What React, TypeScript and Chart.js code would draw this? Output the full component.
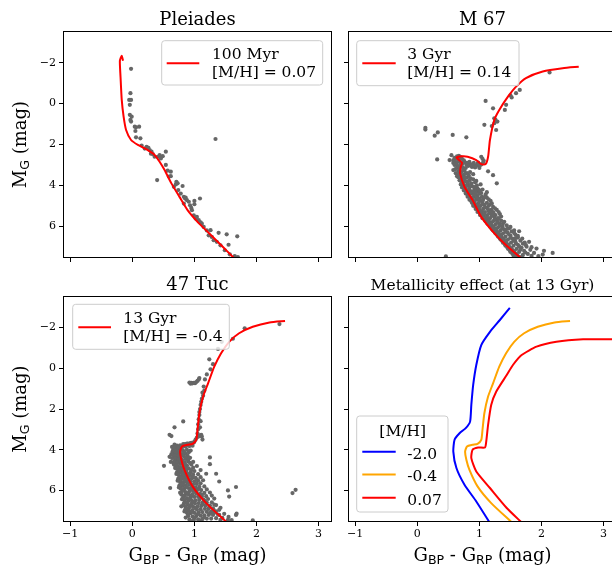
import { useEffect, useRef } from 'react';
import { Chart, registerables } from 'chart.js';

Chart.register(...registerables);

type Pt = [number, number];

// ---- axis ticks / ranges ----
const xTickValues = [-1, 0, 1, 2, 3];
const yTickValues = [-2, 0, 2, 4, 6];
const xRange: Pt = [-1.1, 3.2];
const yRange: Pt = [-3.5, 7.5];

// ---- Pleiades (100 Myr, [M/H]=0.07) ----
const pleiadesIsochrone: Pt[] = [
  [1.64, 7.56], [1.46, 7.01], [1.24, 6.35], [1.05, 5.78], [0.89, 5.21], [0.76, 4.56], [0.63, 3.9],
  [0.52, 3.25], [0.44, 2.84], [0.36, 2.51], [0.23, 2.24], [0.09, 2.02], [-0.02, 1.78], [-0.1, 1.29],
  [-0.14, 0.64], [-0.17, -0.18], [-0.19, -1.33], [-0.2, -2.1], [-0.17, -2.34], [-0.15, -2.1],
];
const pleiadesStars: Pt[] = [
  [-0.02, -1.7], [-0.03, -0.51], [-0.05, -0.18], [-0.02, -0.18], [-0.04, 0.06], [-0.04, 0.55], [-0.01, 0.64],
  [-0.03, 0.8], [-0.02, 0.88], [0.04, 1.13], [0.06, 1.16], [0.11, 1.13], [0.05, 1.34], [0.13, 1.7], [0.06, 1.65],
  [0.23, 2.11], [0.26, 2.16], [0.28, 2.27], [0.31, 2.35], [0.33, 2.47], [0.36, 2.6], [0.41, 2.6], [0.44, 2.52],
  [0.49, 2.57], [0.54, 2.35], [0.46, 2.68], [0.4, 3.74], [0.54, 3.0], [0.57, 3.28], [0.62, 3.33], [0.59, 3.57],
  [0.71, 3.82], [0.73, 3.9], [0.67, 4.07], [0.81, 4.03], [0.74, 4.23], [0.78, 4.4], [0.83, 4.56], [0.85, 4.64],
  [0.88, 4.72], [0.91, 4.8], [0.83, 4.89], [0.93, 4.97], [1.0, 4.76], [1.0, 4.92], [1.09, 4.64], [0.96, 5.21],
  [0.99, 5.46], [1.04, 5.54], [1.07, 5.7], [1.02, 5.62], [1.12, 5.87], [1.15, 6.03], [1.26, 6.19], [1.23, 6.44],
  [1.28, 6.52], [1.39, 6.32], [1.31, 6.68], [1.36, 6.76], [1.52, 6.39], [1.69, 6.49], [1.42, 6.93], [1.55, 6.9],
  [1.49, 7.17], [1.57, 7.37], [1.65, 7.45], [1.7, 7.5], [1.34, 1.73], [0.15, 2.05], [0.2, 2.2], [0.3, 2.45],
  [0.62, 3.55], [0.7, 3.95], [0.86, 4.6], [0.95, 5.1], [1.1, 5.8], [1.2, 6.2],
];

// ---- M 67 (3 Gyr, [M/H]=0.14) ----
const m67Isochrone: Pt[] = [
  [1.67, 7.56], [1.43, 6.93], [1.22, 6.27], [1.03, 5.54], [0.89, 4.72], [0.76, 4.07], [0.69, 3.41], [0.7, 3.09],
  [0.72, 2.89], [0.63, 2.64], [0.72, 2.58], [0.81, 2.6], [0.95, 2.76], [1.03, 2.96], [1.1, 2.96], [1.14, 2.6],
  [1.17, 1.78], [1.24, 0.8], [1.32, 0.31], [1.46, -0.34], [1.59, -0.83], [1.75, -1.25], [2.02, -1.57],
  [2.34, -1.73], [2.6, -1.8],
];
const m67Stars: Pt[] = [
  // blue stragglers & giants
  [0.13, 1.18], [0.13, 1.27], [0.28, 1.57], [0.33, 1.41], [0.57, 1.53], [0.79, 1.65], [0.32, 2.73], [0.52, 2.76],
  [1.1, -0.13], [1.22, 0.23], [1.41, 0.31], [1.43, 0.06], [1.24, 0.72], [1.29, 0.88], [1.26, 0.8], [1.24, 0.96],
  [1.08, 1.04], [1.2, 1.1], [1.27, 1.29], [1.59, -0.51], [1.65, -0.67], [1.5, -0.4], [1.52, -0.3], [2.13, -1.52],
  [1.22, 3.5], [1.28, 3.9], [1.14, 3.31], [0.97, 4.15], [1.1, 4.56],
  // turn-off & subgiants
  [0.6, 2.65], [0.64, 2.58], [0.66, 2.72], [0.58, 2.78], [0.7, 2.62], [0.68, 2.8], [0.62, 2.88], [0.72, 2.7],
  [0.55, 2.52], [0.76, 2.85], [0.8, 2.9], [0.85, 2.95], [0.9, 3.0], [0.95, 3.02], [1.0, 3.05], [1.03, 2.98],
  [0.88, 3.1], [0.93, 3.12], [0.98, 2.88], [1.05, 2.7], [1.03, 2.6], [1.07, 2.8], [0.82, 3.05], [0.78, 3.15],
  [1.0, 3.15], [0.67, 2.55], [0.6, 2.72], [0.75, 2.78], [0.84, 2.85], [0.91, 2.9], [0.97, 2.95], [1.06, 2.88],
  [0.87, 3.02], [0.94, 3.08], [1.0, 2.98], [0.79, 2.98], [0.58, 2.9], [0.65, 2.85], [0.73, 2.92],
  // main sequence
  [0.6, 3.0], [0.65, 3.05], [0.7, 2.95], [0.63, 3.15], [0.68, 3.2], [0.73, 3.1], [0.58, 3.25], [0.66, 3.3],
  [0.71, 3.35], [0.76, 3.28], [0.62, 3.4], [0.68, 3.45], [0.74, 3.5], [0.8, 3.4], [0.85, 3.35], [0.64, 3.55],
  [0.9, 3.45], [0.66, 3.6], [0.7, 3.65], [0.75, 3.7], [0.8, 3.62], [0.68, 3.75], [0.72, 3.85], [0.78, 3.8],
  [0.84, 3.75], [0.9, 3.7], [0.7, 3.95], [0.75, 4.0], [0.81, 3.95], [0.87, 3.9], [0.93, 3.85], [0.72, 4.1],
  [0.78, 4.15], [0.84, 4.1], [0.89, 4.05], [0.96, 4.0], [1.02, 3.95], [0.97, 4.3], [1.05, 4.2],
  [0.75, 4.25], [0.8, 4.3], [0.86, 4.28], [0.92, 4.2], [0.78, 4.4], [0.83, 4.45], [0.88, 4.4], [0.94, 4.35],
  [1.0, 4.4], [0.81, 4.55], [0.86, 4.6], [0.91, 4.55], [0.97, 4.5], [1.04, 4.55], [1.1, 4.45], [0.84, 4.7],
  [0.9, 4.75], [0.95, 4.7], [1.0, 4.65], [1.06, 4.7], [1.12, 4.6], [0.88, 4.85], [0.93, 4.9], [0.99, 4.85],
  [1.05, 4.8], [1.12, 4.85], [1.18, 4.75], [1.0, 4.7],
  [0.9, 5.0], [0.96, 5.05], [1.02, 5.0], [1.08, 4.95], [1.15, 5.0], [1.22, 5.05], [0.94, 5.15], [1.0, 5.2],
  [1.06, 5.15], [1.12, 5.1], [1.19, 5.2], [0.97, 5.3], [1.03, 5.35], [1.09, 5.3], [1.15, 5.25], [1.22, 5.3],
  [1.28, 5.2], [1.01, 5.45], [1.07, 5.5], [1.13, 5.45], [1.19, 5.4], [1.26, 5.45], [1.33, 5.4], [1.05, 5.6],
  [1.11, 5.65], [1.17, 5.6], [1.24, 5.55], [1.3, 5.6], [1.38, 5.86], [1.1, 5.75], [1.16, 5.8], [1.22, 5.75],
  [1.28, 5.7], [1.35, 5.72],
  [1.14, 5.9], [1.2, 5.95], [1.26, 5.9], [1.32, 5.85], [1.18, 6.05], [1.24, 6.1], [1.3, 6.05], [1.37, 6.0],
  [1.44, 5.95], [1.22, 6.2], [1.28, 6.25], [1.34, 6.2], [1.4, 6.15], [1.48, 6.1], [1.26, 6.35], [1.32, 6.4],
  [1.38, 6.35], [1.45, 6.3], [1.52, 6.25], [1.64, 6.24], [1.3, 6.5], [1.36, 6.55], [1.42, 6.5], [1.5, 6.45],
  [1.58, 6.4], [1.56, 6.2],
  [1.34, 6.65], [1.4, 6.7], [1.46, 6.65], [1.53, 6.6], [1.62, 6.55], [1.38, 6.8], [1.44, 6.85], [1.51, 6.8],
  [1.58, 6.75], [1.66, 6.7], [1.8, 6.76], [1.42, 6.95], [1.48, 7.0], [1.55, 6.95], [1.62, 6.9], [1.7, 6.85],
  [1.46, 7.1], [1.53, 7.15], [1.6, 7.1], [1.68, 7.05], [1.76, 7.0], [1.92, 7.09], [1.5, 7.25], [1.57, 7.3],
  [1.64, 7.25], [1.72, 7.2], [1.82, 7.15], [2.04, 7.2], [1.55, 7.42], [1.62, 7.45], [1.7, 7.4], [1.78, 7.35],
  [1.88, 7.3], [2.18, 7.3], [0.46, 7.47], [1.95, 7.45],
  [0.63, 2.97], [0.67, 3.08], [0.61, 3.21], [0.74, 3.23], [0.69, 3.37], [0.77, 3.43], [0.65, 3.48], [0.72, 3.57],
  [0.83, 3.52], [0.69, 3.69], [0.77, 3.61], [0.86, 3.66], [0.73, 3.76], [0.81, 3.84], [0.95, 3.78], [0.74, 3.89],
  [0.79, 4.02], [0.86, 3.98], [0.92, 4.08], [0.77, 4.19], [0.83, 4.23], [0.9, 4.31], [0.99, 4.22], [0.8, 4.36],
  [0.85, 4.38], [0.92, 4.47], [1.03, 4.37], [0.84, 4.52], [0.89, 4.63], [0.96, 4.61], [1.08, 4.58], [0.87, 4.77],
  [0.92, 4.81], [1.03, 4.74], [1.15, 4.68], [0.91, 4.93], [0.97, 4.96], [1.05, 4.91], [1.17, 4.93], [0.94, 5.08],
  [0.99, 5.11], [1.09, 5.06], [1.25, 5.12], [0.98, 5.22], [1.04, 5.27], [1.14, 5.18], [1.31, 5.3], [1.02, 5.38],
  [1.08, 5.41], [1.16, 5.34], [1.23, 5.37], [1.05, 5.53], [1.12, 5.56], [1.2, 5.49], [1.35, 5.52], [1.09, 5.68],
  [1.15, 5.71], [1.25, 5.64], [1.4, 5.78], [1.12, 5.83], [1.19, 5.87], [1.29, 5.81], [1.17, 5.99], [1.23, 6.02],
  [1.33, 5.97], [1.5, 6.03], [1.2, 6.13], [1.27, 6.16], [1.37, 6.09], [1.56, 6.33], [1.25, 6.29], [1.31, 6.31],
  [1.42, 6.26], [1.29, 6.44], [1.35, 6.46], [1.47, 6.38], [1.62, 6.47], [1.33, 6.58], [1.39, 6.61], [1.5, 6.55],
  [1.69, 6.6], [1.37, 6.73], [1.43, 6.77], [1.55, 6.7], [1.73, 6.79], [1.41, 6.88], [1.47, 6.91], [1.59, 6.84],
  [1.45, 7.03], [1.51, 7.06], [1.64, 6.98], [1.84, 7.02], [1.49, 7.18], [1.56, 7.21], [1.66, 7.15], [1.53, 7.33],
  [1.6, 7.36], [1.74, 7.28], [1.58, 7.48], [1.66, 7.5], [1.84, 7.44], [2.02, 7.38], [1.01, 4.27], [1.12, 4.33],
  [1.2, 4.88], [1.31, 5.62], [1.45, 6.12], [1.58, 6.58], [1.75, 6.92],
];

// ---- 47 Tuc (13 Gyr, [M/H]=-0.4) ----
const iso13GyrMetalMid: Pt[] = [
  [1.52, 7.56], [1.19, 6.62], [0.97, 5.8], [0.84, 4.99], [0.79, 4.49], [0.77, 4.09], [0.8, 3.84], [0.89, 3.76],
  [0.97, 3.71], [1.03, 3.52], [1.05, 3.02], [1.08, 2.21], [1.14, 1.39], [1.22, 0.74], [1.32, -0.08],
  [1.43, -0.74], [1.56, -1.3], [1.72, -1.72], [1.94, -2.04], [2.21, -2.25], [2.46, -2.32],
];
const tuc47Stars: Pt[] = [
  // giants, clump
  [2.37, -2.17], [1.81, -1.96], [1.62, -1.45], [1.44, -1.3], [1.38, -0.95], [1.24, -0.44], [1.3, -0.2],
  [1.26, 0.05], [1.2, 0.3], [1.17, 0.55], [1.15, 0.9], [1.13, 1.2], [1.12, 1.5], [1.1, 1.8], [1.09, 2.0],
  [1.08, 2.3], [1.07, 2.5], [1.06, 2.75], [1.06, 3.0], [1.05, 3.2], [1.04, 3.4], [1.1, 3.3], [1.12, 3.35],
  [1.13, 3.5], [1.16, 1.1], [1.14, 1.35], [1.11, 1.65], [1.08, 2.15], [1.1, 2.6], [1.09, 2.9],
  [0.92, 0.7], [0.95, 0.72], [0.97, 0.74], [0.99, 0.71], [1.01, 0.73], [1.03, 0.68], [1.05, 0.62],
  [1.07, 0.55], [1.08, 0.48], [0.94, 0.76],
  [0.51, 4.79], [0.61, 5.88], [1.25, 4.38], [1.25, 4.71], [1.19, 5.18], [1.35, 5.18], [1.4, 5.56],
  [1.67, 5.83], [1.54, 6.0], [1.56, 6.3], [2.58, 6.13], [2.63, 5.97], [0.82, 2.61], [0.6, 3.27], [0.63, 3.33],
  [0.68, 2.9], [1.11, 3.27], [1.07, 3.35], [0.85, 3.72], [0.9, 3.7], [0.95, 3.66], [1.0, 3.6], [1.02, 3.5],
  [1.32, 6.7], [1.4, 6.95], [1.68, 7.14], [1.54, 7.44], [0.79, 6.78],
  // main sequence
  [0.68, 3.75], [0.72, 3.8], [0.77, 3.78], [0.82, 3.72], [0.88, 3.7], [0.94, 3.68], [0.99, 3.65], [0.7, 3.9],
  [0.75, 3.95], [0.8, 3.9], [0.86, 3.85], [0.92, 3.82], [0.66, 4.0], [0.71, 4.05], [0.76, 4.1], [0.82, 4.05],
  [0.88, 4.0], [0.68, 4.15], [0.73, 4.2], [0.79, 4.22], [0.85, 4.18], [0.91, 4.12], [0.97, 3.8],
  [0.67, 4.3], [0.72, 4.35], [0.77, 4.4], [0.83, 4.32], [0.89, 4.28], [0.7, 4.5], [0.75, 4.55], [0.8, 4.48],
  [0.86, 4.45], [0.93, 4.4], [0.66, 4.62], [0.72, 4.68], [0.78, 4.7], [0.84, 4.62], [0.9, 4.58], [0.7, 4.8],
  [0.76, 4.85], [0.82, 4.82], [0.88, 4.78], [0.95, 4.72], [0.73, 4.95], [0.79, 5.0], [0.85, 4.95],
  [0.91, 4.92], [0.98, 4.88], [1.04, 4.8],
  [0.72, 5.1], [0.77, 5.12], [0.83, 5.08], [0.88, 5.15], [0.94, 5.1], [1.0, 5.05], [0.75, 5.25], [0.8, 5.3],
  [0.86, 5.28], [0.92, 5.25], [0.98, 5.22], [1.06, 5.2], [0.74, 5.42], [0.79, 5.45], [0.84, 5.4], [0.9, 5.45],
  [0.96, 5.4], [1.02, 5.38], [1.1, 5.35], [0.77, 5.58], [0.82, 5.62], [0.88, 5.6], [0.94, 5.55], [1.0, 5.55],
  [1.06, 5.52], [1.14, 5.5], [0.76, 5.75], [0.81, 5.78], [0.86, 5.75], [0.92, 5.72], [0.98, 5.7], [1.04, 5.68],
  [1.1, 5.65],
  [0.78, 5.9], [0.84, 5.92], [0.9, 5.88], [0.96, 5.85], [1.02, 5.85], [1.08, 5.82], [1.16, 5.8], [0.8, 6.05],
  [0.86, 6.08], [0.92, 6.04], [0.98, 6.0], [1.04, 6.0], [1.11, 5.98], [1.2, 5.95], [0.79, 6.2], [0.85, 6.22],
  [0.91, 6.2], [0.97, 6.18], [1.03, 6.15], [1.09, 6.15], [1.16, 6.12], [1.25, 6.1], [0.82, 6.35], [0.88, 6.38],
  [0.94, 6.35], [1.0, 6.32], [1.06, 6.3], [1.12, 6.3], [1.19, 6.28], [1.28, 6.25], [0.84, 6.5], [0.9, 6.52],
  [0.96, 6.5], [1.02, 6.48], [1.08, 6.46], [1.15, 6.45], [1.22, 6.42], [1.32, 6.4],
  [0.83, 6.65], [0.89, 6.68], [0.95, 6.66], [1.01, 6.64], [1.07, 6.62], [1.13, 6.6], [1.2, 6.6], [1.28, 6.58],
  [0.86, 6.8], [0.92, 6.82], [0.98, 6.8], [1.05, 6.78], [1.11, 6.76], [1.18, 6.75], [1.25, 6.74], [1.35, 6.72],
  [0.85, 6.95], [0.91, 6.98], [0.97, 6.96], [1.04, 6.94], [1.1, 6.92], [1.17, 6.9], [1.23, 6.9], [1.3, 6.88],
  [1.42, 6.85], [0.88, 7.1], [0.94, 7.12], [1.0, 7.1], [1.07, 7.08], [1.13, 7.06], [1.2, 7.05], [1.27, 7.04],
  [1.35, 7.02], [0.9, 7.25], [0.97, 7.28], [1.03, 7.26], [1.1, 7.24], [1.16, 7.22], [1.23, 7.2], [1.3, 7.2],
  [1.38, 7.18], [1.48, 7.15], [0.92, 7.42], [0.99, 7.44], [1.06, 7.42], [1.13, 7.4], [1.2, 7.38], [1.27, 7.38],
  [1.35, 7.36], [1.45, 7.35], [1.4, 7.2], [1.67, 7.2], [1.94, 7.47],
  [0.64, 3.86], [0.69, 3.84], [0.74, 3.87], [0.79, 3.83], [0.84, 3.79], [0.9, 3.77], [0.65, 4.08], [0.7, 4.12],
  [0.78, 4.01], [0.84, 4.13], [0.94, 4.04], [0.63, 4.22], [0.69, 4.27], [0.75, 4.29], [0.81, 4.25], [0.87, 4.38],
  [0.64, 4.41], [0.69, 4.44], [0.74, 4.47], [0.81, 4.57], [0.9, 4.49], [0.68, 4.56], [0.73, 4.62], [0.78, 4.58],
  [0.85, 4.71], [0.93, 4.64], [0.67, 4.73], [0.72, 4.77], [0.79, 4.91], [0.85, 4.87], [0.69, 4.9], [0.75, 5.04],
  [0.81, 5.18], [0.87, 5.02], [0.95, 5.0], [0.71, 5.19], [0.77, 5.35], [0.83, 5.22], [0.89, 5.36], [0.97, 5.31],
  [0.73, 5.52], [0.79, 5.69], [0.85, 5.51], [0.91, 5.65], [1.04, 5.47], [0.75, 5.85], [0.82, 5.98], [0.87, 5.83],
  [0.94, 5.96], [1.07, 5.92], [0.77, 6.11], [0.83, 6.28], [0.89, 6.14], [0.95, 6.26], [1.12, 6.21], [0.8, 6.43],
  [0.86, 6.58], [0.92, 6.43], [0.99, 6.57], [1.17, 6.52], [0.82, 6.74], [0.88, 6.89], [0.94, 6.74], [1.02, 6.87],
  [1.24, 6.82], [0.84, 7.03], [0.9, 7.19], [0.96, 7.04], [1.05, 7.17], [1.32, 7.1], [0.86, 7.33], [0.93, 7.48],
  [1.0, 7.35], [1.09, 7.47], [1.42, 7.44], [1.16, 7.31], [1.25, 7.13], [1.31, 6.96], [1.14, 6.69], [1.08, 6.36],
  [1.01, 6.05], [0.96, 5.76], [0.91, 5.44], [0.87, 5.12], [0.83, 4.86], [1.55, 7.3], [1.6, 7.45], [0.62, 4.6],
  [0.6, 4.35], [0.98, 4.6], [1.1, 5.0],
];

// ---- Metallicity effect at 13 Gyr ----
const iso13GyrMetalPoor: Pt[] = [
  [1.17, 7.6], [0.95, 6.54], [0.76, 5.72], [0.63, 4.9], [0.58, 4.09], [0.6, 3.51], [0.68, 3.19], [0.78, 2.94],
  [0.85, 2.62], [0.87, 1.8], [0.9, 0.82], [0.95, -0.16], [1.03, -1.14], [1.17, -1.79], [1.33, -2.37], [1.49, -2.97],
];
const iso13GyrMetalRich: Pt[] = [
  [1.69, 7.6], [1.44, 6.86], [1.17, 5.88], [0.95, 5.07], [0.87, 4.41], [0.89, 4.0], [0.98, 3.89], [1.09, 3.89],
  [1.11, 3.6], [1.14, 2.78], [1.19, 1.8], [1.27, 1.15], [1.44, 0.33], [1.54, -0.16], [1.68, -0.65], [1.92, -1.06],
  [2.24, -1.3], [2.67, -1.42], [3.13, -1.43], [3.3, -1.43],
];
const metallicityLabels = ['-2.0', '-0.4', '0.07'];

// ---- styling ----
const SERIF = "'DejaVu Serif', serif";
const SANS = "'DejaVu Sans', sans-serif";
const RED = '#ff0000';
const metallicityColors = ['#0000ff', '#ffa500', '#ff0000'];
const STAR_COLOR = '#666666';

type Seg = { t: string; sub?: boolean };
interface LegendSpec {
  rect: [number, number, number, number];
  title?: { text: string; x: number; y: number };
  sampleX: [number, number];
  textX: number;
  entries: { color: string; sampleY: number; texts: [string, number][] }[];
}
interface PanelSpec {
  id: string;
  box: { left: number; top: number; w: number; h: number };
  area: { l: number; t: number; r: number; b: number };
  title: string;
  titleSize: number;
  yLabels: boolean;
  xLabels: boolean;
  curves: { pts: Pt[]; color: string }[];
  stars?: Pt[];
  legend: LegendSpec;
}

const yLabelSegs: Seg[] = [{ t: 'M' }, { t: 'G', sub: true }, { t: ' (mag)' }];
const xLabelSegs: Seg[] = [{ t: 'G' }, { t: 'BP', sub: true }, { t: ' - G' }, { t: 'RP', sub: true }, { t: ' (mag)' }];

function drawSegs(ctx: CanvasRenderingContext2D, segs: Seg[], size: number, cx: number, cy: number) {
  const sub = size * 0.7;
  const fonts = segs.map((s) => (s.sub ? `${sub}px ${SANS}` : `${size}px ${SERIF}`));
  const widths = segs.map((s, i) => {
    ctx.font = fonts[i];
    return ctx.measureText(s.t).width;
  });
  const total = widths.reduce((a, b) => a + b, 0);
  let x = cx - total / 2;
  ctx.textAlign = 'left';
  ctx.textBaseline = 'alphabetic';
  segs.forEach((s, i) => {
    ctx.font = fonts[i];
    ctx.fillText(s.t, x, s.sub ? cy + 2.5 : cy);
    x += widths[i];
  });
}

function roundRect(ctx: CanvasRenderingContext2D, x: number, y: number, w: number, h: number, r: number) {
  ctx.beginPath();
  ctx.moveTo(x + r, y);
  ctx.lineTo(x + w - r, y);
  ctx.arcTo(x + w, y, x + w, y + r, r);
  ctx.lineTo(x + w, y + h - r);
  ctx.arcTo(x + w, y + h, x + w - r, y + h, r);
  ctx.lineTo(x + r, y + h);
  ctx.arcTo(x, y + h, x, y + h - r, r);
  ctx.lineTo(x, y + r);
  ctx.arcTo(x, y, x + r, y, r);
  ctx.closePath();
}

const panels: PanelSpec[] = [
  {
    id: 'pleiades',
    box: { left: 0, top: 0, w: 340, h: 282 },
    area: { l: 64, t: 32, r: 331, b: 257 },
    title: 'Pleiades',
    titleSize: 18,
    yLabels: true,
    xLabels: false,
    curves: [{ pts: pleiadesIsochrone, color: RED }],
    stars: pleiadesStars,
    legend: {
      rect: [161.7, 40.7, 161, 44.3],
      sampleX: [166.7, 199.3],
      textX: 212,
      entries: [{ color: RED, sampleY: 63.3, texts: [['100 Myr', 59.3], ['[M/H] = 0.07', 76.7]] }],
    },
  },
  {
    id: 'm67',
    box: { left: 340, top: 0, w: 280, h: 282 },
    area: { l: 9, t: 32, r: 276, b: 257 },
    title: 'M 67',
    titleSize: 18,
    yLabels: false,
    xLabels: false,
    curves: [{ pts: m67Isochrone, color: RED }],
    stars: m67Stars,
    legend: {
      rect: [356.7, 40.7, 162.3, 45],
      sampleX: [362.3, 395.7],
      textX: 407.3,
      entries: [{ color: RED, sampleY: 63.3, texts: [['3 Gyr', 59.3], ['[M/H] = 0.14', 76.7]] }],
    },
  },
  {
    id: 'tuc47',
    box: { left: 0, top: 260, w: 340, h: 307 },
    area: { l: 64, t: 37, r: 331, b: 261 },
    title: '47 Tuc',
    titleSize: 18,
    yLabels: true,
    xLabels: true,
    curves: [{ pts: iso13GyrMetalMid, color: RED }],
    stars: tuc47Stars,
    legend: {
      rect: [72.7, 304.3, 156.6, 45],
      sampleX: [78.3, 111],
      textX: 123.3,
      entries: [{ color: RED, sampleY: 327.3, texts: [['13 Gyr', 323.3], ['[M/H] = -0.4', 340.7]] }],
    },
  },
  {
    id: 'metal',
    box: { left: 340, top: 260, w: 280, h: 307 },
    area: { l: 9, t: 37, r: 276, b: 261 },
    title: 'Metallicity effect (at 13 Gyr)',
    titleSize: 15.5,
    yLabels: false,
    xLabels: true,
    curves: [
      { pts: iso13GyrMetalPoor, color: metallicityColors[0] },
      { pts: iso13GyrMetalMid, color: metallicityColors[1] },
      { pts: iso13GyrMetalRich, color: metallicityColors[2] },
    ],
    legend: {
      rect: [356.7, 416, 91.3, 96],
      title: { text: '[M/H]', x: 402.7, y: 435.5 },
      sampleX: [362.3, 395.7],
      textX: 407.3,
      entries: [
        { color: metallicityColors[0], sampleY: 451.7, texts: [[metallicityLabels[0], 458.5]] },
        { color: metallicityColors[1], sampleY: 474.5, texts: [[metallicityLabels[1], 481.3]] },
        { color: metallicityColors[2], sampleY: 497.8, texts: [[metallicityLabels[2], 504.6]] },
      ],
    },
  },
];

const fmtTick = (v: number | string) => {
  const n = Number(v);
  return n < 0 ? '\u2212' + Math.abs(n) : String(n);
};

function Panel({ spec }: { spec: PanelSpec }) {
  const ref = useRef<HTMLCanvasElement>(null);
  useEffect(() => {
    const canvas = ref.current;
    if (!canvas) return;
    const { box, area } = spec;
    const datasets: any[] = spec.curves.map((c) => ({
      data: c.pts.map(([x, y]) => ({ x, y })),
      showLine: true,
      borderColor: c.color,
      borderWidth: 2,
      pointRadius: 0,
      tension: 0.2,
      fill: false,
      order: 0,
    }));
    if (spec.stars) {
      datasets.push({
        data: spec.stars.map(([x, y]) => ({ x, y })),
        showLine: false,
        pointRadius: 2.1,
        backgroundColor: STAR_COLOR,
        borderWidth: 0,
        order: 1,
      });
    }

    const deco = {
      id: 'deco',
      afterDatasetsDraw(chart: any) {
        const ctx: CanvasRenderingContext2D = chart.ctx;
        const lg = spec.legend;
        ctx.save();
        ctx.translate(-box.left, -box.top);
        roundRect(ctx, lg.rect[0], lg.rect[1], lg.rect[2], lg.rect[3], 3);
        ctx.fillStyle = 'rgba(255,255,255,0.8)';
        ctx.fill();
        ctx.strokeStyle = '#cccccc';
        ctx.lineWidth = 1;
        ctx.stroke();
        ctx.fillStyle = '#000';
        ctx.font = `15.5px ${SERIF}`;
        ctx.textBaseline = 'alphabetic';
        if (lg.title) {
          ctx.textAlign = 'center';
          ctx.fillText(lg.title.text, lg.title.x, lg.title.y);
        }
        ctx.textAlign = 'left';
        lg.entries.forEach((e) => {
          ctx.beginPath();
          ctx.moveTo(lg.sampleX[0], e.sampleY);
          ctx.lineTo(lg.sampleX[1], e.sampleY);
          ctx.strokeStyle = e.color;
          ctx.lineWidth = 2;
          ctx.stroke();
          e.texts.forEach(([t, y]) => ctx.fillText(t, lg.textX, y));
        });
        ctx.restore();
      },
      afterDraw(chart: any) {
        const ctx: CanvasRenderingContext2D = chart.ctx;
        const ca = chart.chartArea;
        ctx.save();
        ctx.strokeStyle = '#000';
        ctx.lineWidth = 1;
        ctx.strokeRect(ca.left - 0.5, ca.top - 0.5, ca.right - ca.left + 1, ca.bottom - ca.top + 1);
        ctx.fillStyle = '#000';
        ctx.font = `${spec.titleSize}px ${SERIF}`;
        ctx.textAlign = 'center';
        ctx.textBaseline = 'alphabetic';
        ctx.fillText(spec.title, (ca.left + ca.right) / 2, ca.top - 7);
        if (spec.yLabels) {
          ctx.save();
          ctx.translate(26, (ca.top + ca.bottom) / 2);
          ctx.rotate(-Math.PI / 2);
          drawSegs(ctx, yLabelSegs, 18, 0, 0);
          ctx.restore();
        }
        if (spec.xLabels) {
          drawSegs(ctx, xLabelSegs, 18, (ca.left + ca.right) / 2, 561 - box.top);
        }
        ctx.restore();
      },
    };

    const tickFont = { family: SERIF, size: 11 };
    const chart = new Chart(canvas, {
      type: 'scatter',
      data: { datasets },
      options: {
        animation: false,
        responsive: false,
        maintainAspectRatio: false,
        events: [],
        layout: {
          autoPadding: false,
          padding: { left: 0, top: area.t, right: box.w - area.r, bottom: 0 },
        },
        plugins: { legend: { display: false }, tooltip: { enabled: false }, title: { display: false } },
        scales: {
          x: {
            type: 'linear',
            min: xRange[0],
            max: xRange[1],
            afterBuildTicks: (s: any) => {
              s.ticks = xTickValues.map((v) => ({ value: v }));
            },
            afterFit: (s: any) => {
              s.height = box.h - area.b;
            },
            ticks: { display: spec.xLabels, font: tickFont, color: '#000', padding: 2, callback: fmtTick },
            grid: { display: true, drawOnChartArea: false, drawTicks: true, tickLength: 5, tickColor: '#000', tickWidth: 1 },
            border: { display: false },
          },
          y: {
            type: 'linear',
            reverse: true,
            min: yRange[0],
            max: yRange[1],
            afterBuildTicks: (s: any) => {
              s.ticks = yTickValues.map((v) => ({ value: v }));
            },
            afterFit: (s: any) => {
              s.width = area.l;
            },
            ticks: { display: spec.yLabels, font: tickFont, color: '#000', padding: 3, callback: fmtTick },
            grid: { display: true, drawOnChartArea: false, drawTicks: true, tickLength: 5, tickColor: '#000', tickWidth: 1 },
            border: { display: false },
          },
        },
      } as any,
      plugins: [deco],
    });
    return () => chart.destroy();
  }, [spec]);
  return (
    <canvas
      ref={ref}
      width={spec.box.w}
      height={spec.box.h}
      style={{ position: 'absolute', left: spec.box.left, top: spec.box.top, width: spec.box.w, height: spec.box.h }}
    />
  );
}

export default function App() {
  return (
    <div
      style={{ position: 'fixed', left: 0, top: 0, width: 612, height: 567, overflow: 'hidden', background: '#fff' }}
    >
      {panels.map((p) => (
        <Panel key={p.id} spec={p} />
      ))}
    </div>
  );
}
